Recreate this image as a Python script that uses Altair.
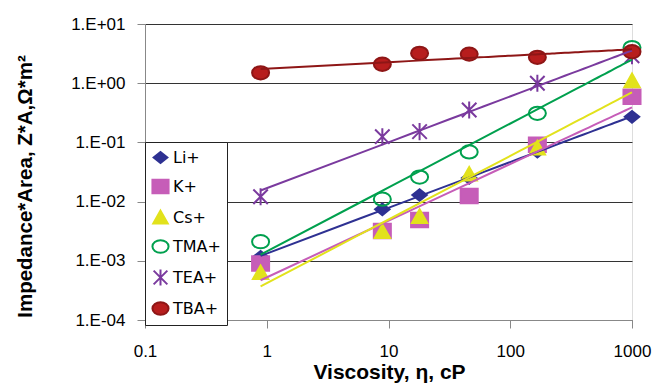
import altair as alt
import pandas as pd

# ---- data ----
viscosity = [0.89, 8.9, 18, 46, 167, 1000]
series_names = ["Li+", "K+", "Cs+", "TMA+", "TEA+", "TBA+"]
li = [0.00117, 0.0074, 0.0129, 0.025, 0.07, 0.27]
k = [0.0009, 0.0032, 0.0049, 0.0124, 0.091, 0.59]
cs = [0.00063, 0.0031, 0.0056, 0.029, 0.08, 1.1]
tma = [0.0021, 0.011, 0.026, 0.069, 0.31, 4.0]
tea = [0.0121, 0.125, 0.152, 0.352, 1.0, 2.9]
tba = [1.50, 2.09, 3.2, 3.1, 2.74, 3.4]
x_ticks = [0.1, 1, 10, 100, 1000]
y_ticks = [0.0001, 0.001, 0.01, 0.1, 1, 10]

series_values = [li, k, cs, tma, tea, tba]
rows = []
for name, vals in zip(series_names, series_values):
    for xv, yv in zip(viscosity, vals):
        rows.append({"series": name, "x": xv, "y": yv})
df = pd.DataFrame(rows)

# ---- styles ----
stroke_colors = ["#2E3192", "#C65DB8", "#E2E21C", "#00A04E", "#7A3A9E", "#8E1616"]
fill_colors = ["#2E3192", "#C65DB8", "#E2E21C", "transparent", "transparent", "#B71D1D"]
diamond = "M0,-0.68L0.85,0L0,0.68L-0.85,0Z"
square = "M-1,-0.85L1,-0.85L1,0.85L-1,0.85Z"
triangle = "M0,-0.85L0.9,0.75L-0.9,0.75Z"
ellipse = "M-1,0A1,0.78,0,1,1,1,0A1,0.78,0,1,1,-1,0Z"
star = "M0,-1L0,1M-0.85,-0.85L0.85,0.85M-0.85,0.85L0.85,-0.85"
shapes = [diamond, square, triangle, ellipse, star, ellipse]

x_scale = alt.Scale(type="log", domain=[0.1, 1000])
y_scale = alt.Scale(type="log", domain=[0.0001, 10])

x_axis = alt.Axis(
    values=x_ticks, format="~g", grid=False, tickSize=8, labelPadding=15,
    labelFontSize=17, labelOverlap=False, labelFlush=False,
    title="Viscosity, η, cP", titleFontSize=21,
    titleFontWeight="bold", titleX=244, titleY=58, titleBaseline="alphabetic",
)
y_axis = alt.Axis(
    values=y_ticks, grid=True, gridColor="#333333", gridWidth=1, tickSize=8,
    labelPadding=12, labelFontSize=17, labelOverlap=False, labelFlush=False,
    labelExpr="datum.value >= 1 ? '1.E+0' + round(log(datum.value)/LN10) : '1.E-0' + round(-log(datum.value)/LN10)",
    title="Impedance*Area, Z*A,Ω*m²", titleFontSize=20.5, titleFontWeight="bold",
    titleX=-114, titleY=162, titleBaseline="alphabetic", titleAngle=270,
)

dom = series_names
points = alt.Chart(df).mark_point(filled=True, opacity=1, size=290, strokeWidth=2).encode(
    x=alt.X("x:Q", scale=x_scale, axis=x_axis),
    y=alt.Y("y:Q", scale=y_scale, axis=y_axis),
    stroke=alt.Stroke("series:N", scale=alt.Scale(domain=dom, range=stroke_colors),
                      legend=alt.Legend(
                          title=None, orient="none", legendX=0, legendY=118,
                          fillColor="white", strokeColor="#222", padding=6,
                          rowPadding=8, labelFontSize=16, labelFont="DejaVu Sans",
                          symbolSize=260, symbolStrokeWidth=2, labelOffset=3,
                          labelExpr="datum.label + '\u00a0\u00a0\u00a0\u00a0\u00a0\u00a0\u00a0'",
                      )),
    fill=alt.Fill("series:N", scale=alt.Scale(domain=dom, range=fill_colors)),
    shape=alt.Shape("series:N", scale=alt.Scale(domain=dom, range=shapes)),
)

lines = alt.Chart(df).transform_regression(
    "x", "y", method="pow", groupby=["series"], extent=[0.89, 1000]
).mark_line(strokeWidth=2).encode(
    x=alt.X("x:Q", scale=x_scale),
    y=alt.Y("y:Q", scale=y_scale),
    stroke=alt.Stroke("series:N", scale=alt.Scale(domain=dom, range=stroke_colors), legend=None),
)

chart = alt.layer(points, lines).properties(
    width=487, height=296,
    autosize=alt.AutoSizeParams(type="none"),
    padding={"left": 145, "top": 24, "right": 26, "bottom": 67},
).configure_view(stroke="#333333", strokeWidth=1).configure_axis(
    domainColor="#222", tickColor="#222", labelColor="#111", titleColor="#111",
    labelFont="DejaVu Sans", titleFont="DejaVu Sans",
).configure(background="white")

chart.save("out.html", embed_options={"renderer": "svg", "actions": False})
